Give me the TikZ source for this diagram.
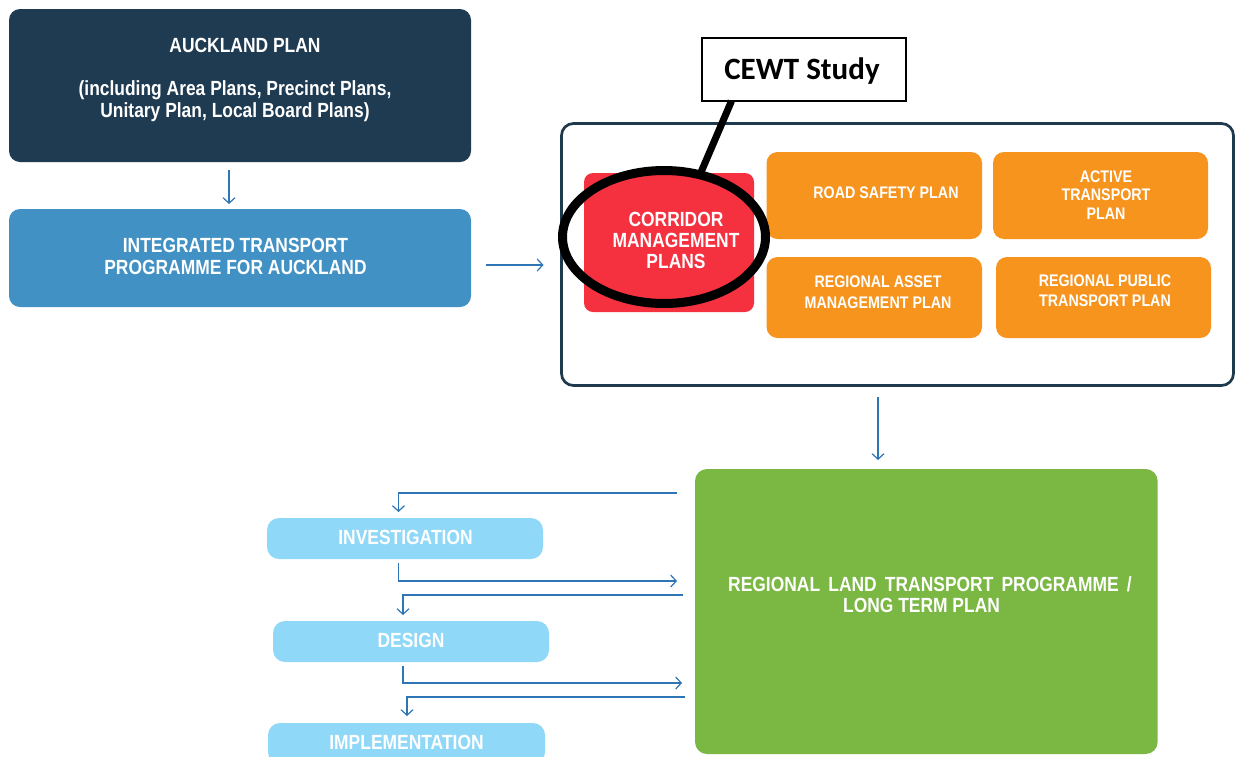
\documentclass[tikz,border=0pt]{standalone}
\usepackage{fontspec}
\setmainfont{Liberation Sans}
\newfontfamily\narrowfont[FakeStretch=0.85]{Liberation Sans}
\newfontfamily\calfont{Carlito}
\usetikzlibrary{arrows.meta,shapes.geometric}
\definecolor{navy}{HTML}{1E3B52}
\definecolor{itpblue}{HTML}{4191C4}
\definecolor{arrowblue}{HTML}{2E75B6}
\definecolor{cmred}{HTML}{F5303F}
\definecolor{planorange}{HTML}{F7941E}
\definecolor{rltpgreen}{HTML}{7AB743}
\definecolor{stageblue}{HTML}{90D8F8}
\definecolor{framecol}{HTML}{1F3A4D}
\newcommand\fsz[2]{\fontsize{#1}{#2}\selectfont}
\begin{document}
\begin{tikzpicture}[x=1pt,y=-1pt,
  box/.style={rectangle, rounded corners=11pt, inner sep=0pt, outer sep=0pt},
  txt/.style={inner sep=0pt, outer sep=0pt, text=white, align=center},
  arr/.style={draw=arrowblue, line width=1.2pt, -{Straight Barb[length=5.5pt,width=12pt]}}]
\useasboundingbox (0,0) rectangle (1236,756);
\fill[white] (0,0) rectangle (1236,756);

% left column
\node[box, fill=navy, minimum width=462pt, minimum height=153pt] (ap) at (240,85.5) {};
\node[txt, font=\narrowfont\bfseries\fsz{20.5}{21.5}] (aptext) at (235,80)
  {\hspace*{20pt}AUCKLAND PLAN\\[21.5pt](including Area Plans, Precinct Plans,\\Unitary Plan, Local Board Plans)};
\node[box, fill=itpblue, minimum width=462pt, minimum height=98pt] (itp) at (240,258) {};
\node[txt, font=\narrowfont\bfseries\fsz{20.5}{22}] (itptext) at (235.5,256)
  {INTEGRATED TRANSPORT\\PROGRAMME FOR AUCKLAND};

% container
\node[box, draw=framecol, line width=2.7pt, rounded corners=12pt, minimum width=672pt, minimum height=262pt] (cont) at (897.5,254.5) {};
\node[box, fill=cmred, rounded corners=9pt, minimum width=170pt, minimum height=139pt] (cmp) at (669,242.5) {};
\node[txt, font=\narrowfont\bfseries\fsz{20.5}{20.7}] (cmptext) at (676,240.5)
  {CORRIDOR\\MANAGEMENT\\PLANS};
\node[box, fill=planorange, minimum width=215.5pt, minimum height=87pt] (rs) at (874.25,195.5) {};
\node[txt, font=\narrowfont\bfseries\fsz{16.8}{19}] (rstext) at (886,192.5) {ROAD SAFETY PLAN};
\node[box, fill=planorange, minimum width=215pt, minimum height=87pt] (at) at (1100.5,195.5) {};
\node[txt, font=\narrowfont\bfseries\fsz{16.8}{18.5}] (attext) at (1106,195) {ACTIVE\\TRANSPORT\\PLAN};
\node[box, fill=planorange, minimum width=215.5pt, minimum height=81pt] (ra) at (874.25,297.5) {};
\node[txt, font=\narrowfont\bfseries\fsz{16.8}{21}] (ratext) at (878,292.5) {REGIONAL ASSET\\MANAGEMENT PLAN};
\node[box, fill=planorange, minimum width=215pt, minimum height=81pt] (rp) at (1103.5,297.5) {};
\node[txt, font=\narrowfont\bfseries\fsz{16.8}{20}] (rptext) at (1105,291) {REGIONAL PUBLIC\\TRANSPORT PLAN};

% CEWT callout
\node[draw=black, fill=white, line width=2pt, inner sep=0pt, outer sep=0pt, minimum width=204pt, minimum height=63pt] (cewt) at (804,69.5) {};
\node[inner sep=0pt, anchor=base, font=\calfont\bfseries\fsz{31}{34}] (cewttext) at (802,79) {CEWT Study};
\node[ellipse, draw=black, line width=9pt, inner sep=0pt, outer sep=0pt, minimum width=203pt, minimum height=133pt] (ell) at (664,237) {};
\draw[line width=7pt] ([xshift=-72.5pt]cewt.south) -- (ell.60);

% green box
\node[box, fill=rltpgreen, rounded corners=12pt, minimum width=462.6pt, minimum height=285pt] (glr) at (926.3,611.5) {};
\node[txt, font=\narrowfont\bfseries\fsz{20.5}{21}] (glrtexta) at (930,584.5)
  {REGIONAL\hspace{8.2pt}LAND\hspace{8.2pt}TRANSPORT\hspace{8.2pt}PROGRAMME\hspace{8.2pt}/};
\node[txt, font=\narrowfont\bfseries\fsz{20.5}{21}] (glrtextb) at (921.5,605.5) {LONG TERM PLAN};

% stages
\node[box, fill=stageblue, rounded corners=12pt, minimum width=276pt, minimum height=41pt] (inv) at (405,538.5) {};
\node[txt, font=\narrowfont\bfseries\fsz{20.5}{21}] (invtext) at (405.5,537.5) {INVESTIGATION};
\node[box, fill=stageblue, rounded corners=12pt, minimum width=276pt, minimum height=41pt] (des) at (411,641.5) {};
\node[txt, font=\narrowfont\bfseries\fsz{20.5}{21}] (destext) at (411,640.5) {DESIGN};
\node[box, fill=stageblue, rounded corners=12pt, minimum width=277pt, minimum height=41pt] (imp) at (406.5,743.5) {};
\node[txt, font=\narrowfont\bfseries\fsz{20.5}{21}] (imptext) at (406.5,742) {IMPLEMENTATION};

% connectors
\draw[arr] ([xshift=-11pt,yshift=-8pt]ap.south) -- ([xshift=-11pt,yshift=5pt]itp.north);
\draw[arr] ([xshift=15pt,yshift=-7pt]itp.east) -- ([xshift=-18pt,yshift=-10.5pt]cont.west);
\draw[arr] ([xshift=-19.5pt,yshift=-11.5pt]cont.south) -- ([xshift=-48.3pt,yshift=9pt]glr.north);
\draw[arr] ([xshift=-18pt,yshift=-24pt]glr.north west) -| ([xshift=-6.5pt,yshift=6pt]inv.north);
\draw[arr] ([xshift=-6.5pt,yshift=-4pt]inv.south) |- ([xshift=-18pt,yshift=-112pt]glr.north west);
\draw[arr] ([xshift=-12pt,yshift=-126pt]glr.north west) -| ([xshift=-8pt,yshift=6pt]des.north);
\draw[arr] ([xshift=-8pt,yshift=-4pt]des.south) |- ([xshift=-13pt,yshift=-214pt]glr.north west);
\draw[arr] ([xshift=-10pt,yshift=-228pt]glr.north west) -| ([xshift=0.5pt,yshift=7pt]imp.north);
\end{tikzpicture}
\end{document}
